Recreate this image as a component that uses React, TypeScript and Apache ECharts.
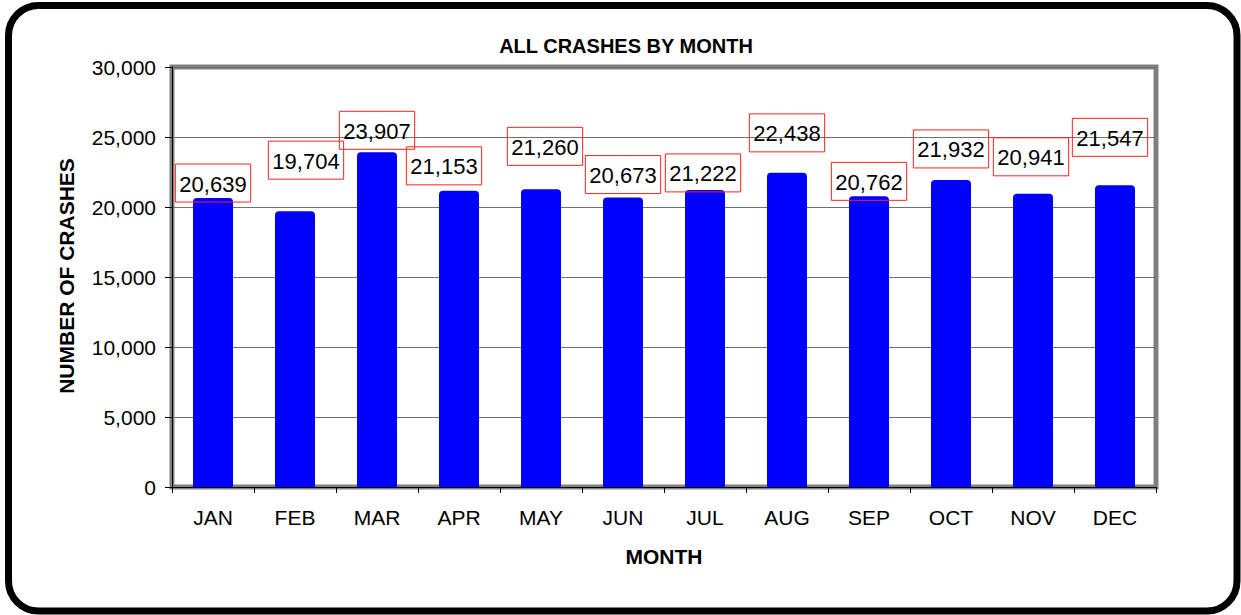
import React, { useEffect, useRef } from "react";
import * as echarts from "echarts";

const months = ["JAN", "FEB", "MAR", "APR", "MAY", "JUN", "JUL", "AUG", "SEP", "OCT", "NOV", "DEC"];
const crashes = [20639, 19704, 23907, 21153, 21260, 20673, 21222, 22438, 20762, 21932, 20941, 21547];
const yMin = 0;
const yMax = 30000;
const yStep = 5000;
const chartTitle = "ALL CRASHES BY MONTH";
const xTitle = "MONTH";
const yTitle = "NUMBER OF CRASHES";

// label placement tweaks (pixels), style only
const labelOffsets: number[][] = [
  [0, 4], [11, -32], [0, -3], [-15, -6], [4, -24], [0, -4],
  [-2, 2], [0, -21], [0, 4], [0, -12], [-2, -18], [-5, -29],
];

const fmt = (v: number) => v.toLocaleString("en-US");
const FONT = "'Liberation Sans', Arial, sans-serif";

export default function App() {
  const ref = useRef<HTMLDivElement>(null);
  useEffect(() => {
    if (!ref.current) return;
    const chart = echarts.init(ref.current, null, { renderer: "svg" });
    chart.setOption({
      animation: false,
      backgroundColor: "#ffffff",
      textStyle: { fontFamily: FONT },
      grid: {
        left: 172,
        right: 85,
        top: 67,
        bottom: 128,
        show: true,
        borderColor: "#808080",
        borderWidth: 5,
        backgroundColor: "transparent",
      },
      xAxis: {
        type: "category",
        data: months,
        axisLine: { show: true, lineStyle: { color: "#000", width: 1 } },
        axisTick: { show: true, length: 6, lineStyle: { color: "#000" } },
        axisLabel: { color: "#000", fontSize: 21, fontFamily: FONT, margin: 20 },
        splitLine: { show: false },
      },
      yAxis: {
        type: "value",
        min: yMin,
        max: yMax,
        interval: yStep,
        axisLine: { show: true, lineStyle: { color: "#000", width: 1 } },
        axisTick: { show: true, length: 7, lineStyle: { color: "#000" } },
        axisLabel: { color: "#000", fontSize: 21, fontFamily: FONT, margin: 16, formatter: (v: number) => fmt(v) },
        splitLine: { show: true, lineStyle: { color: "#707070", width: 1 } },
      },
      series: [
        {
          type: "bar",
          barWidth: 40,
          itemStyle: { color: "#0000ff", borderRadius: [4, 4, 0, 0] },
          data: crashes.map((v, i) => ({ value: v, label: { offset: labelOffsets[i] } })),
          label: {
            show: true,
            position: "top",
            distance: 0,
            formatter: (p: any) => fmt(p.value),
            color: "#000",
            fontSize: 22,
            fontFamily: FONT,
            lineHeight: 22,
            borderColor: "#ff2020",
            borderWidth: 1,
            padding: [9, 4, 7, 4],
          },
        },
      ],
      graphic: [
        {
          type: "rect",
          shape: { x: 8.5, y: 5.5, width: 1228.5, height: 605.5, r: 30 },
          style: { fill: "none", stroke: "#000", lineWidth: 7 },
          silent: true,
        },
        {
          type: "text",
          x: 626,
          y: 46,
          style: { text: chartTitle, fill: "#000", font: `bold 20px ${FONT}`, textAlign: "center", textVerticalAlign: "middle" },
        },
        {
          type: "text",
          x: 664,
          y: 556,
          style: { text: xTitle, fill: "#000", font: `bold 21px ${FONT}`, textAlign: "center", textVerticalAlign: "middle" },
        },
        {
          type: "text",
          x: 66,
          y: 276,
          rotation: Math.PI / 2,
          style: { text: yTitle, fill: "#000", font: `bold 21px ${FONT}`, textAlign: "center", textVerticalAlign: "middle" },
        },
      ],
    });
    return () => chart.dispose();
  }, []);
  return <div ref={ref} style={{ position: "absolute", left: 0, top: 0, width: 1241, height: 615 }} />;
}
